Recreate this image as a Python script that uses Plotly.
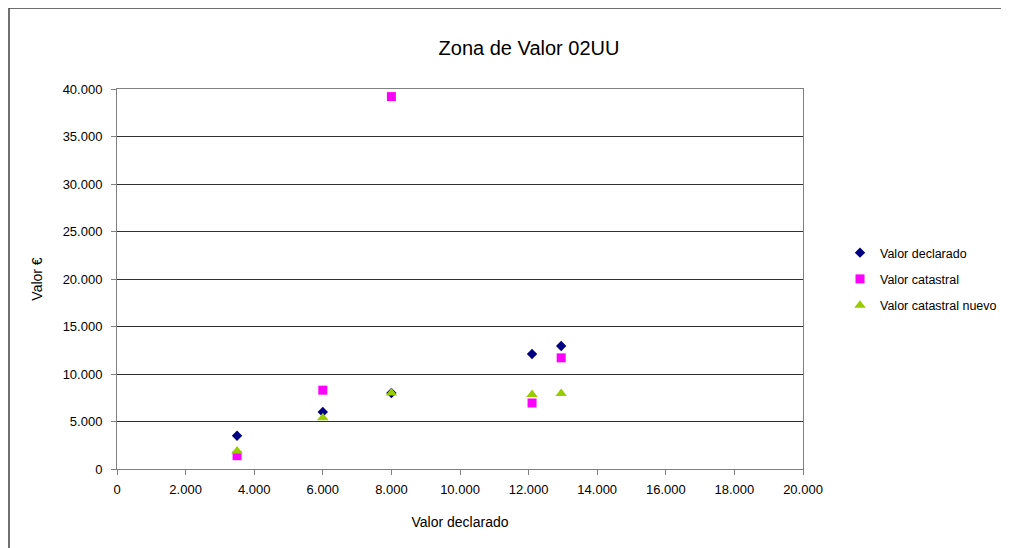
import plotly.graph_objects as go

x_vals = [3500, 6000, 8000, 12100, 12950]
valor_declarado = [3500, 6000, 8000, 12100, 12950]
valor_catastral = [1400, 8300, 39200, 6950, 11700]
valor_catastral_nuevo = [1900, 5400, 8000, 7850, 7950]

series = [
    ("Valor declarado", valor_declarado, "diamond", "#000080", 8),
    ("Valor catastral", valor_catastral, "square", "#FF00FF", 9),
    ("Valor catastral nuevo", valor_catastral_nuevo, "triangle-up", "#99CC00", 10),
]

fig = go.Figure()
for i, (name, ys, sym, col, sz) in enumerate(series):
    fig.add_trace(go.Scatter(
        x=x_vals, y=ys, mode="markers", name=name, legendgroup=f"g{i}",
        marker=dict(symbol=sym, color=col, size=sz, line=dict(width=0)),
    ))

# page body margin offsets the figure by ~8px
W, H = 1001, 540
L, T = 109, 81
pw, ph = 686, 380
R, B = W - L - pw, H - T - ph

fig.update_layout(
    width=W, height=H,
    margin=dict(l=L, r=R, t=T, b=B, autoexpand=False),
    paper_bgcolor="white", plot_bgcolor="white",
    separators=",.",
    font=dict(family="Liberation Sans, Arial", size=13, color="#000000"),
    title=dict(text="Zona de Valor 02UU", x=521 / W, xanchor="center",
               y=1 - 40 / H, yanchor="middle",
               font=dict(size=20, color="#000000")),
    showlegend=True,
    legend=dict(x=(832 - L) / pw, xanchor="left", y=190 / ph, yanchor="middle",
                traceorder="grouped", tracegroupgap=7, font=dict(size=12.5),
                itemwidth=30, bgcolor="rgba(0,0,0,0)"),
    xaxis=dict(range=[0, 20000], dtick=2000, tickformat=",.0f",
               showgrid=False, zeroline=False, showline=True, linecolor="#808080",
               linewidth=1, mirror=True, ticks="outside", ticklen=5, tickcolor="#808080",
               ticklabelstandoff=3, tickfont=dict(size=13),
               title=dict(text="Valor declarado", standoff=21, font=dict(size=14))),
    yaxis=dict(range=[0, 40000], dtick=5000, tickformat=",.0f",
               showgrid=True, gridcolor="#303030", gridwidth=1, zeroline=False,
               showline=True, linecolor="#808080", linewidth=1, mirror=True,
               ticks="outside", ticklen=5, tickcolor="#808080",
               ticklabelstandoff=6, tickfont=dict(size=13),
               title=dict(text="Valor €", standoff=16, font=dict(size=14))),
)

top_y = 1 + T / ph
left_x = (1 - L) / pw
fig.add_shape(type="line", xref="paper", yref="paper", x0=left_x, x1=(W - L) / pw + 0.01,
              y0=top_y, y1=top_y, line=dict(color="#404040", width=1.5))
fig.add_shape(type="line", xref="paper", yref="paper", x0=left_x, x1=left_x,
              y0=top_y, y1=-(B + 5) / ph, line=dict(color="#404040", width=1.5))

fig.write_html("out.html")
